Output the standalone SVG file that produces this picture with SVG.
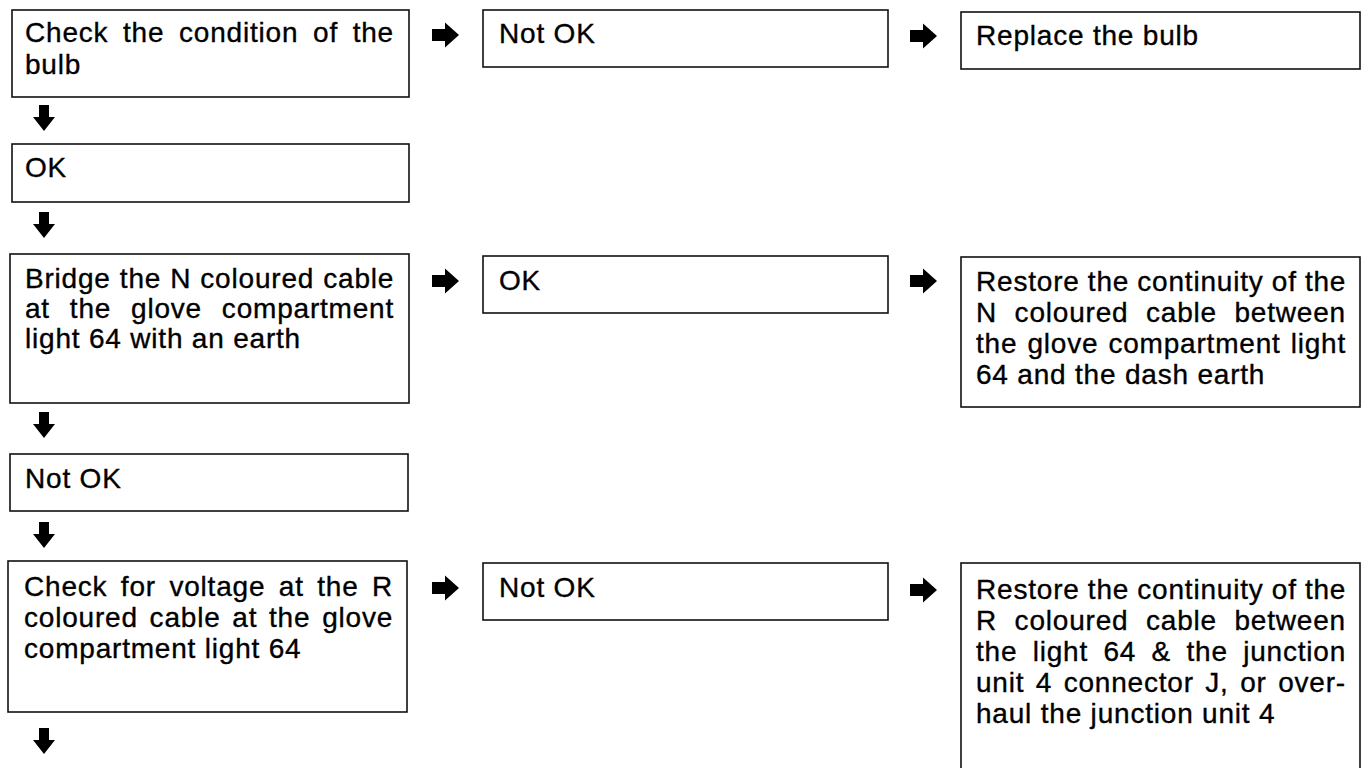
<svg xmlns="http://www.w3.org/2000/svg" width="1370" height="768" viewBox="0 0 1370 768">
<style>
.box{fill:#fff;stroke:#111;stroke-width:1.6}
.t{font-family:"Liberation Sans",Arial,sans-serif;font-size:28px;letter-spacing:0.8px;fill:#000;stroke:#000;stroke-width:0.35}
.arr{fill:#000}
</style>
<defs>
<path id="down" d="M-5,0 H5 V12 H11 L0,26 L-11,12 H-5 Z"/>
<path id="right" d="M0,-6 H13 V-12.5 L27,0 L13,12.5 V6 H0 Z"/>
</defs>
<rect width="1370" height="768" fill="#fff"/>
<g id="connectors" class="arr">
<use href="#down" x="44" y="105"/>
<use href="#down" x="44" y="212"/>
<use href="#down" x="44" y="412"/>
<use href="#down" x="44" y="522"/>
<use href="#down" x="44" y="728"/>
<use href="#right" x="432" y="35"/>
<use href="#right" x="910" y="36"/>
<use href="#right" x="432" y="281"/>
<use href="#right" x="910" y="281"/>
<use href="#right" x="432" y="588"/>
<use href="#right" x="910" y="590"/>
</g>
<g id="n1">
<rect class="box" x="12" y="10" width="397" height="87"/>
<text class="t" x="25" y="42" word-spacing="6.1">Check the condition of the</text>
<text class="t" x="25" y="74">bulb</text>
</g>
<g id="n2">
<rect class="box" x="483" y="10" width="405" height="57"/>
<text class="t" x="499" y="43">Not OK</text>
</g>
<g id="n3">
<rect class="box" x="961" y="12" width="399" height="57"/>
<text class="t" x="976" y="45">Replace the bulb</text>
</g>
<g id="n4">
<rect class="box" x="12" y="144" width="397" height="58"/>
<text class="t" x="25" y="177">OK</text>
</g>
<g id="n5">
<rect class="box" x="10" y="254" width="399" height="149"/>
<text class="t" x="25" y="288" word-spacing="0.5">Bridge the N coloured cable</text>
<text class="t" x="25" y="318" word-spacing="11.3">at the glove compartment</text>
<text class="t" x="25" y="348">light 64 with an earth</text>
</g>
<g id="n6">
<rect class="box" x="483" y="256" width="405" height="57"/>
<text class="t" x="499" y="290">OK</text>
</g>
<g id="n7">
<rect class="box" x="961" y="257" width="399" height="150"/>
<text class="t" x="976" y="291" word-spacing="-0.4">Restore the continuity of the</text>
<text class="t" x="976" y="322" word-spacing="9">N coloured cable between</text>
<text class="t" x="976" y="353" word-spacing="1.5">the glove compartment light</text>
<text class="t" x="976" y="384">64 and the dash earth</text>
</g>
<g id="n8">
<rect class="box" x="10" y="454" width="398" height="57"/>
<text class="t" x="25" y="488">Not OK</text>
</g>
<g id="n9">
<rect class="box" x="8" y="561" width="399" height="151"/>
<text class="t" x="24" y="596" word-spacing="4.9">Check for voltage at the R</text>
<text class="t" x="24" y="627" word-spacing="3.2">coloured cable at the glove</text>
<text class="t" x="24" y="658">compartment light 64</text>
</g>
<g id="n10">
<rect class="box" x="483" y="563" width="405" height="57"/>
<text class="t" x="499" y="597">Not OK</text>
</g>
<g id="n11">
<rect class="box" x="961" y="563" width="399" height="230"/>
<text class="t" x="976" y="599" word-spacing="-0.4">Restore the continuity of the</text>
<text class="t" x="976" y="630" word-spacing="9">R coloured cable between</text>
<text class="t" x="976" y="661" word-spacing="6.8">the light 64 &amp; the junction</text>
<text class="t" x="976" y="692" word-spacing="2.9">unit 4 connector J, or over-</text>
<text class="t" x="976" y="723">haul the junction unit 4</text>
</g>
</svg>
